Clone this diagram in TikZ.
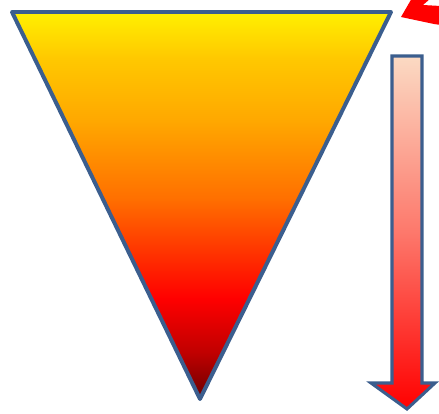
\documentclass[tikz,border=0pt]{standalone}
\usepackage{xcolor}
\usepackage{tikz}
\usetikzlibrary{
  arrows.meta,
  calc,
  shadings
}
\definecolor{hbEdge}{HTML}{3B5E8E}
\definecolor{hbYellow}{HTML}{FFF000}
\definecolor{hbGold}{HTML}{FFC800}
\definecolor{hbAmber}{HTML}{FFA800}
\definecolor{hbOrange}{HTML}{FF7000}
\definecolor{hbRed}{HTML}{FF0000}
\definecolor{hbMaroon}{HTML}{C00000}
\definecolor{hbDark}{HTML}{6A0000}
\definecolor{hbPeach}{HTML}{FBDAC3}
\definecolor{hbPoint}{HTML}{FF0000}
\pgfdeclareverticalshading{heatfall}{100bp}{%
  color(0bp)=(hbDark); color(25bp)=(hbDark); color(31bp)=(hbMaroon);
  color(38bp)=(hbRed); color(51bp)=(hbOrange); color(61bp)=(hbAmber);
  color(69bp)=(hbGold); color(75bp)=(hbYellow); color(100bp)=(hbYellow)}
\tikzset{
  funnel/.style={draw=hbEdge, line width=3.4pt, line join=round, shading=heatfall},
  downarrow/.style={draw=hbEdge, line width=2.6pt, line join=miter,
    top color=hbPeach, bottom color=hbRed, middle color=hbRed!45!hbPeach},
  pointer/.style={fill=hbPoint, draw=none}
}

\begin{document}
\begin{tikzpicture}[x=0.03cm, y=-0.03cm]
  \useasboundingbox (0,0) rectangle (439,414);
  % funnel
  \coordinate (tl) at (12,12);
  \coordinate (tr) at (391,12);
  \coordinate (tip) at (200,399);
  \path[funnel] (tl) -- (tr) -- (tip) -- cycle;
  % down arrow
  \path[downarrow] (392,56) -- (422,56) -- (422,383) -- (435,383)
    -- (407,409) -- (371,383) -- (392,383) -- cycle;
  % pointer at the corner
  \begin{scope}
    \clip (0,0) rectangle (439,414);
    \path[pointer] (401,17) -- (412,-2) -- (431,-2) -- (423,5) -- (441,6)
      -- (441,25) -- (434,24) -- cycle;
  \end{scope}
\end{tikzpicture}
\end{document}
